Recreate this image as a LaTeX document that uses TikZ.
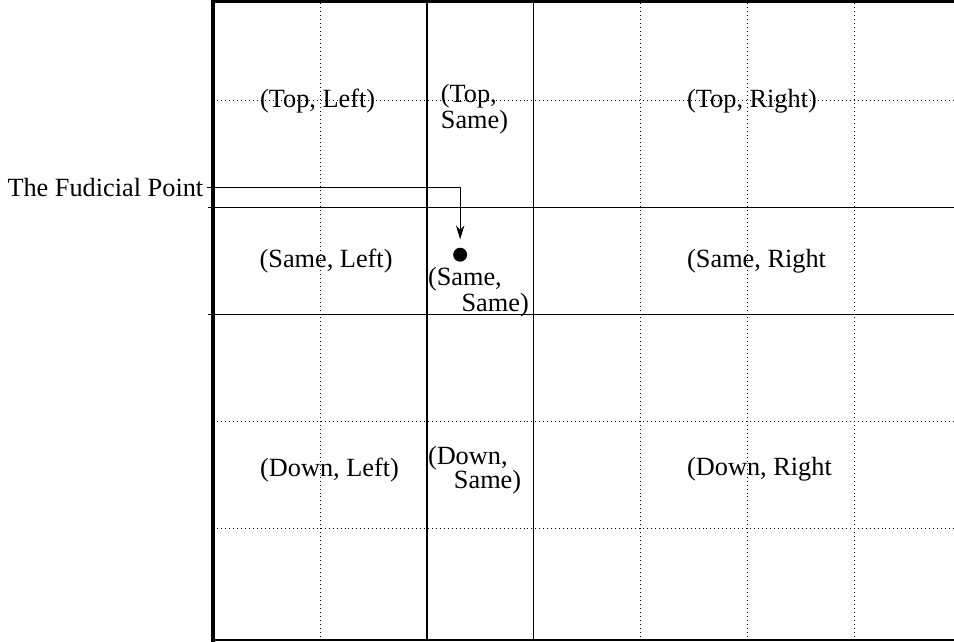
\documentclass[tikz,border=0pt]{standalone}
\usepackage{fontspec}
\setmainfont{Liberation Serif}
\usetikzlibrary{arrows.meta}

\begin{document}
\begin{tikzpicture}[x=1.7cm,y=1.7cm,>={Stealth[length=6.3pt,width=3.8pt]},
 lbl/.style={inner sep=0,anchor=west,align=left,font=\fontsize{11.9}{10.2}\selectfont},
 solidline/.style={line width=.5pt},
 dotline/.style={line width=.45pt,dash pattern=on .45pt off 1.35pt},
 frame/.style={line width=1.6pt}]
 \useasboundingbox (-1.995,-.056) rectangle (6.93,5.944);
 % grid
 \foreach \x in {1,4,5,6} \draw[dotline] (\x,-.05)--(\x,5.93);
 \foreach \y in {1,2,5} \draw[dotline] (0,\y)--(7,\y);
 \draw[solidline] (2,-.05)--(2,5.93) (3,-.05)--(3,5.93);
 \draw[solidline] (-.05,3)--(7,3) (-.05,4)--(7,4);
 \draw[line width=.9pt] (0,-.047)--(7,-.047);
 \draw[frame] (0,-.06)--(0,5.928)--(7,5.928);
 % cells
 \node[lbl] (tl) at (.435,5) {(Top, Left)};
 \node[lbl] (ts) at (2.126,4.926) {(Top,\\Same)};
 \node[lbl] (tr) at (4.43,5) {(Top, Right)};
 \node[lbl] (sl) at (.43,3.5) {(Same, Left)};
 \node[lbl,font=\fontsize{11.9}{9}\selectfont] (ss) at (2.005,3.212) {(Same,\\\hspace*{15.2pt}Same)};
 \node[lbl] (sr) at (4.43,3.5) {(Same, Right};
 \node[lbl] (dl) at (.435,1.55) {(Down, Left)};
 \node[lbl,font=\fontsize{11.9}{10.85}\selectfont] (ds) at (2.005,1.544) {(Down,\\\hspace*{11.75pt}Same)};
 \node[lbl] (dr) at (4.43,1.55) {(Down, Right};
 % fiducial point
 \node[circle,fill,inner sep=0,minimum size=.222cm] (dot) at (2.31,3.561) {};
 \node[inner sep=1.7pt,anchor=east,font=\fontsize{11.9}{12}\selectfont] (fp) at (-.054,4.187) {The Fudicial Point};
 \draw[solidline,->,shorten >=3.6pt] (fp.east) -| (dot.north);
\end{tikzpicture}
\end{document}
